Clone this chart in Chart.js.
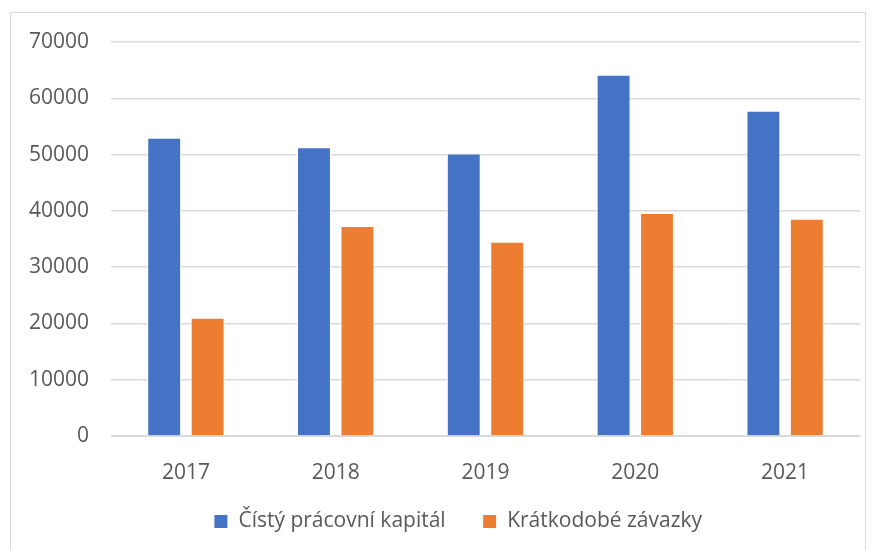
<!DOCTYPE html>
<html>
<head>
<meta charset="utf-8">
<script src="https://cdn.jsdelivr.net/npm/chart.js@4"></script>
<style>
  body { margin: 0; background: #fff; }
  #wrap { position: relative; width: 873px; height: 550px; }
  #frame { position: absolute; left: 10px; top: 12px; width: 856px; height: 540px; border: 1px solid #d9d9d9; box-sizing: border-box; pointer-events: none; }
</style>
</head>
<body>
<div id="wrap">
  <canvas id="wcChart" width="873" height="550"></canvas>
  <div id="frame"></div>
</div>
<script>
const years = ['2017', '2018', '2019', '2020', '2021'];
const netWorkingCapital = [53000, 51300, 50200, 64200, 57800];
const shortTermLiabilities = [21000, 37300, 34500, 39600, 38600];
const seriesNames = ['Čístý prácovní kapitál', 'Krátkodobé závazky'];

const ctx = document.getElementById('wcChart');
const font = { family: '"Open Sans", sans-serif', size: 21 };

// nudge the legend a bit right and up, like in the original
const legendShift = {
  id: 'legendShift',
  afterLayout(chart) {
    const lg = chart.legend;
    if (!lg) return;
    lg.left += 28; lg.right += 28;
    lg.top -= 6; lg.bottom -= 6;
  }
};

new Chart(ctx, {
  type: 'bar',
  data: {
    labels: years,
    datasets: [
      {
        label: seriesNames[0],
        data: netWorkingCapital,
        backgroundColor: '#4472c4',
        borderColor: '#ffffff',
        borderWidth: 1
      },
      {
        label: seriesNames[1],
        data: shortTermLiabilities,
        backgroundColor: '#ed7d31',
        borderColor: '#ffffff',
        borderWidth: 1
      }
    ]
  },
  options: {
    responsive: false,
    animation: false,
    categoryPercentage: 0.58,
    barPercentage: 0.78,
    layout: { padding: { top: 42, right: 13, bottom: 2, left: 0 } },
    scales: {
      x: {
        grid: { display: false },
        border: { color: '#d9d9d9', width: 1 },
        ticks: { color: '#595959', font: font, padding: 16 },
        afterFit: (scale) => { scale.height = 44; }
      },
      y: {
        min: 0,
        max: 70000,
        ticks: { stepSize: 10000, color: '#595959', font: font, padding: 22, callback: (v) => String(v) },
        grid: { color: '#d9d9d9', lineWidth: 1.5, drawTicks: false },
        border: { display: false },
        afterFit: (scale) => { scale.width = 111; }
      }
    },
    plugins: {
      legend: {
        position: 'bottom',
        labels: {
          color: '#595959',
          font: font,
          boxWidth: 14,
          boxHeight: 14,
          padding: 37
        }
      },
      tooltip: { enabled: false }
    }
  },
  plugins: [legendShift]
});
</script>
</body>
</html>
